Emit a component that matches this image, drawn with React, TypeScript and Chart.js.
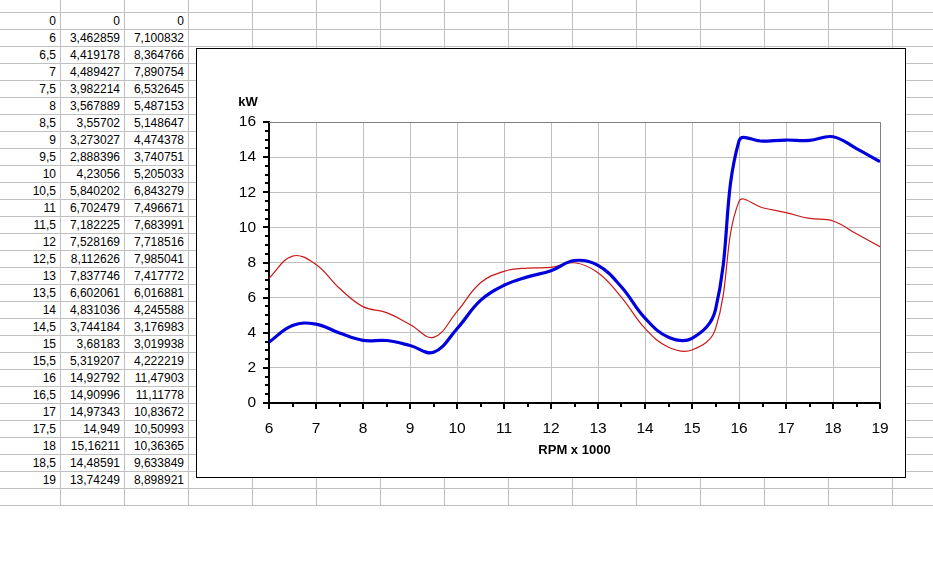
import React, { useEffect, useRef } from "react";
import { Chart, registerables } from "chart.js";

Chart.register(...registerables);

// Spreadsheet table (first row is the "0 0 0" row)
const rpm = [0, 6, 6.5, 7, 7.5, 8, 8.5, 9, 9.5, 10, 10.5, 11, 11.5, 12, 12.5, 13, 13.5, 14, 14.5, 15, 15.5, 16, 16.5, 17, 17.5, 18, 18.5, 19];
const powerA = [0, 3.462859, 4.419178, 4.489427, 3.982214, 3.567889, 3.55702, 3.273027, 2.888396, 4.23056, 5.840202, 6.702479, 7.182225, 7.528169, 8.112626, 7.837746, 6.602061, 4.831036, 3.744184, 3.68183, 5.319207, 14.92792, 14.90996, 14.97343, 14.949, 15.16211, 14.48591, 13.74249];
const powerB = [0, 7.100832, 8.364766, 7.890754, 6.532645, 5.487153, 5.148647, 4.474378, 3.740751, 5.205033, 6.843279, 7.496671, 7.683991, 7.718516, 7.985041, 7.417772, 6.016881, 4.245588, 3.176983, 3.019938, 4.222219, 11.47903, 11.11778, 10.83672, 10.50993, 10.36365, 9.633849, 8.898921];

const yTitle = "kW";
const xTitle = "RPM x 1000";

const fmt = (v: number) => String(v).replace(".", ",");

const FONT = "Arial, 'Liberation Sans', sans-serif";

const axisPlugin = {
  id: "excelAxes",
  beforeDatasetsDraw(chart: any) {
    const { ctx, chartArea } = chart;
    ctx.save();
    ctx.strokeStyle = "#808080";
    ctx.lineWidth = 1;
    ctx.beginPath();
    ctx.moveTo(chartArea.left, chartArea.top + 0.5);
    ctx.lineTo(chartArea.right + 0.5, chartArea.top + 0.5);
    ctx.lineTo(chartArea.right + 0.5, chartArea.bottom);
    ctx.stroke();
    ctx.restore();
  },
  afterDraw(chart: any) {
    const { ctx, chartArea, scales } = chart;
    const xs = scales.x;
    const ys = scales.y;
    ctx.save();
    ctx.strokeStyle = "#000";
    ctx.lineWidth = 2;
    ctx.beginPath();
    for (let v = ys.min; v <= ys.max + 1e-9; v += 0.5) {
      const p = Math.round(ys.getPixelForValue(v));
      const len = v % 2 === 0 ? 5 : 3;
      ctx.moveTo(chartArea.left - 1, p);
      ctx.lineTo(chartArea.left - 1 - len, p);
    }
    for (let v = xs.min; v <= xs.max + 1e-9; v += 0.5) {
      const p = Math.round(xs.getPixelForValue(v));
      const len = v % 1 === 0 ? 5 : 3;
      ctx.moveTo(p, chartArea.bottom + 1);
      ctx.lineTo(p, chartArea.bottom + 1 + len);
    }
    ctx.stroke();
    ctx.fillStyle = "#000";
    ctx.font = `bold 13px ${FONT}`;
    ctx.textAlign = "center";
    ctx.textBaseline = "middle";
    ctx.fillText(yTitle, chartArea.left - 21, chartArea.top - 20);
    ctx.fillText(xTitle, (chartArea.left + chartArea.right) / 2, chartArea.bottom + 47);
    ctx.restore();
  },
};

function ExcelChart() {
  const ref = useRef<HTMLCanvasElement | null>(null);
  useEffect(() => {
    if (!ref.current) return;
    const idx = rpm.map((_, i) => i).filter((i) => rpm[i] >= 6);
    const chart = new Chart(ref.current, {
      type: "line",
      data: {
        datasets: [
          {
            label: "A",
            data: idx.map((i) => ({ x: rpm[i], y: powerA[i] })),
            borderColor: "rgb(0,0,220)",
            borderWidth: 3.2,
            pointRadius: 0,
            tension: 0.4,
            fill: false,
          },
          {
            label: "B",
            data: idx.map((i) => ({ x: rpm[i], y: powerB[i] })),
            borderColor: "rgb(200,24,24)",
            borderWidth: 1.2,
            pointRadius: 0,
            tension: 0.4,
            fill: false,
          },
        ],
      },
      options: {
        animation: false,
        responsive: false,
        devicePixelRatio: 1,
        layout: { padding: { top: 73, right: 25, left: 0, bottom: 0 } },
        plugins: { legend: { display: false }, tooltip: { enabled: false } },
        scales: {
          x: {
            type: "linear",
            min: 6,
            max: 19,
            afterFit: (s: any) => {
              s.height = 74;
            },
            ticks: { stepSize: 1, color: "#000", font: { family: FONT, size: 15.5 }, padding: 16, maxRotation: 0, autoSkip: false },
            grid: { color: "#c0c0c0", lineWidth: 1, drawTicks: false },
            border: { display: true, color: "#000", width: 2 },
          },
          y: {
            min: 0,
            max: 16,
            afterFit: (s: any) => {
              s.width = 72;
            },
            ticks: { stepSize: 2, color: "#000", font: { family: FONT, size: 15.5 }, padding: 13 },
            grid: { color: "#c0c0c0", lineWidth: 1, drawTicks: false },
            border: { display: true, color: "#000", width: 2 },
          },
        },
      },
      plugins: [axisPlugin],
    });
    return () => chart.destroy();
  }, []);
  return <canvas ref={ref} width={708} height={428} style={{ display: "block" }} />;
}

export default function App() {
  const vLines: number[] = [];
  for (let x = 60; x < 933; x += 64) vLines.push(x);
  const hLines: number[] = [];
  for (let k = 0; k <= 29; k++) hLines.push(12 + 17 * k);
  const colRights = [60, 124, 188];
  const cols = [rpm, powerA, powerB];
  return (
    <div style={{ position: "absolute", left: 0, top: 0, width: 933, height: 568, background: "#fff", overflow: "hidden", fontFamily: FONT }}>
      {vLines.map((x) => (
        <div key={"v" + x} style={{ position: "absolute", left: x, top: 0, width: 1, height: 506, background: "#c0c0c0" }} />
      ))}
      {hLines.map((y) => (
        <div key={"h" + y} style={{ position: "absolute", left: 0, top: y, width: 933, height: 1, background: "#c0c0c0" }} />
      ))}
      {cols.map((col, c) =>
        col.map((v, r) => (
          <div
            key={`c${c}r${r}`}
            style={{
              position: "absolute",
              left: colRights[c] - 64,
              width: 60,
              top: 13 + 17 * r,
              height: 16,
              lineHeight: "16px",
              fontSize: 12,
              textAlign: "right",
              color: "#000",
              whiteSpace: "nowrap",
            }}
          >
            {fmt(v)}
          </div>
        ))
      )}
      <div style={{ position: "absolute", left: 196, top: 48, width: 710, height: 430, border: "1px solid #000", boxSizing: "border-box", background: "#fff" }}>
        <ExcelChart />
      </div>
    </div>
  );
}
